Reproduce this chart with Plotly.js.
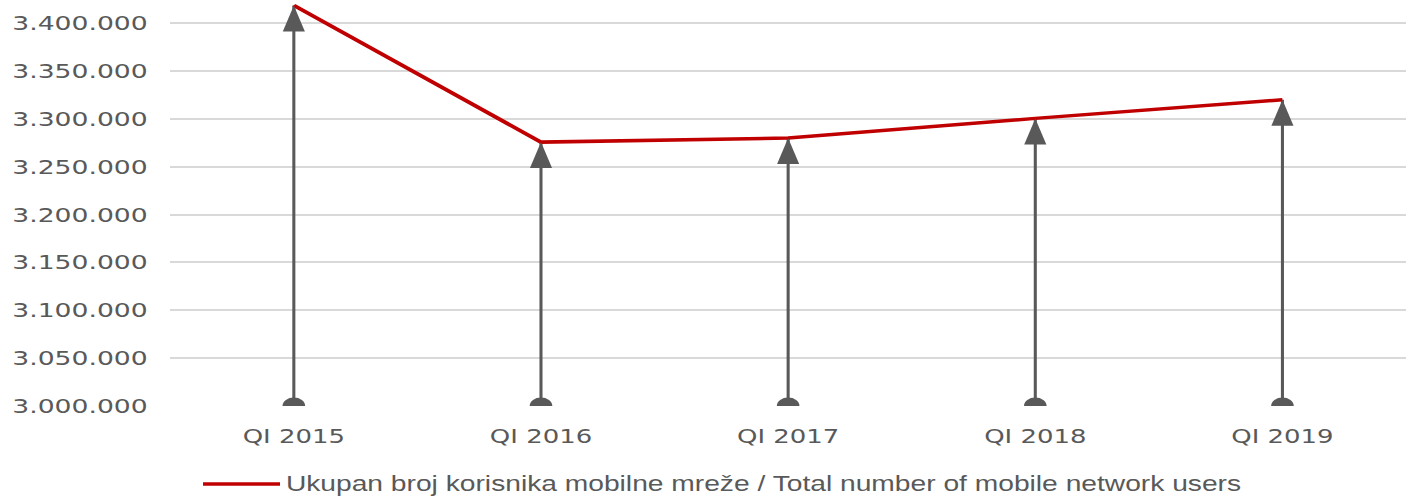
<!DOCTYPE html>
<html>
<head>
<meta charset="utf-8">
<script src="https://cdn.plot.ly/plotly-3.0.1.min.js"></script>
<style>
  html, body { margin: 0; padding: 0; background: #fff; overflow: hidden; }
  #wrap { width: 1410px; height: 497px; overflow: hidden; }
  #chart { width: 1060px; height: 497px; transform: scaleX(1.3302); transform-origin: 0 0; }
</style>
</head>
<body>
<div id="wrap"><div id="chart"></div></div>
<script>
// Data
const categories = ['QI 2015', 'QI 2016', 'QI 2017', 'QI 2018', 'QI 2019'];
const users = [3418500, 3275700, 3280000, 3300500, 3320000];
const baseValue = 3000000;
const seriesName = 'Ukupan broj korisnika mobilne mreže / Total number of mobile network users';

const grey = '#595959';

// stems: one trace with gaps
const stemX = [], stemY = [];
categories.forEach((c, i) => { stemX.push(c, c, null); stemY.push(baseValue, users[i], null); });

const traces = [
  { type: 'scatter', mode: 'lines', x: stemX, y: stemY, line: { color: grey, width: 2.3 },
    hoverinfo: 'skip', showlegend: false, cliponaxis: true },
  { type: 'scatter', mode: 'markers', x: categories, y: categories.map(() => baseValue),
    marker: { symbol: 'circle', size: 17, color: grey }, hoverinfo: 'skip', showlegend: false, cliponaxis: true },
  { type: 'scatter', mode: 'lines', x: categories, y: users, name: seriesName,
    line: { color: '#C00000', width: 3.5 }, showlegend: false, cliponaxis: false }
];

// arrowheads anchored at each data value (pixel-sized shapes)
const shapes = categories.map((c, i) => ({
  type: 'path', xref: 'x', yref: 'y', xsizemode: 'pixel', ysizemode: 'pixel',
  xanchor: i, yanchor: users[i],
  path: 'M0,0 L-8.3,-26 L8.3,-26 Z',
  fillcolor: grey, line: { width: 0 }, layer: 'above'
}));
// manual legend sample
shapes.push({ type: 'line', xref: 'paper', yref: 'paper', x0: 0.0265, x1: 0.0888, y0: -0.194, y1: -0.194,
  line: { color: '#C00000', width: 3.5 } });

const layout = {
  width: 1060, height: 497,
  margin: { l: 128, r: 3, t: 4, b: 91 },
  paper_bgcolor: '#fff', plot_bgcolor: '#fff',
  separators: ',.',
  showlegend: false,
  xaxis: {
    type: 'category', range: [-0.5, 4.5], showgrid: false, zeroline: false, showline: false,
    ticks: '', ticklabelstandoff: 17,
    tickfont: { family: 'DejaVu Sans', size: 19.5, color: grey }
  },
  yaxis: {
    range: [3000000, 3420000], dtick: 50000, tick0: 3000000, tickformat: ',d',
    showgrid: true, gridcolor: '#D9D9D9', gridwidth: 2, zeroline: false, showline: false,
    ticks: '', ticklabelstandoff: 16,
    tickfont: { family: 'DejaVu Sans', size: 20, color: grey }
  },
  shapes: shapes,
  annotations: [{
    xref: 'paper', yref: 'paper', x: 0.0913, y: -0.194, xanchor: 'left', yanchor: 'middle',
    showarrow: false, text: seriesName,
    font: { family: 'Liberation Sans, Arial, sans-serif', size: 21.2, color: grey }
  }]
};

Plotly.newPlot('chart', traces, layout, { displayModeBar: false, staticPlot: true });
</script>
</body>
</html>
